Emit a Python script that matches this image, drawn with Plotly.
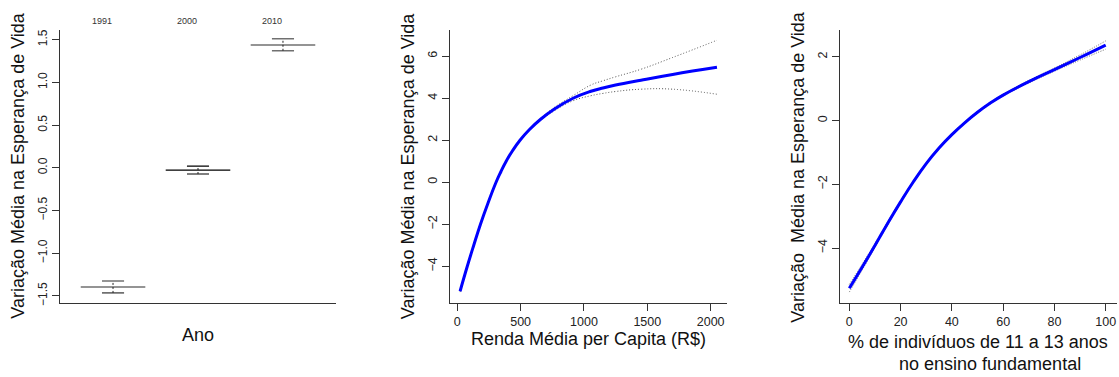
import plotly.graph_objects as go

# --- Efeito do ano (fator) -------------------------------------------------
anos = ["1991", "2000", "2010"]
efeito_ano = [-1.395, -0.027, 1.438]
ano_inf = [-1.465, -0.073, 1.370]
ano_sup = [-1.326, 0.020, 1.510]
cor_ano = ["#707070", "#000000", "#707070"]
larg_ano = [1.6, 1.2, 1.6]

# --- Efeito suave da renda média per capita -------------------------------
renda = [22, 79, 130, 183, 242, 306, 344, 386, 436, 495, 568, 658, 770, 914,
         1055, 1150, 1250, 1450, 1700, 2050]
renda_fit = [-5.19, -4.00, -3.00, -2.00, -1.00, 0.00, 0.50, 1.00, 1.50, 2.00,
             2.50, 3.00, 3.50, 4.00, 4.33, 4.49, 4.63, 4.86, 5.13, 5.47]
renda_sup = [-5.15, -3.97, -2.97, -1.97, -0.97, 0.03, 0.53, 1.03, 1.53, 2.03,
             2.54, 3.05, 3.58, 4.12, 4.63, 4.83, 5.02, 5.38, 5.94, 6.76]
renda_inf = [-5.23, -4.03, -3.03, -2.03, -1.03, -0.03, 0.47, 0.97, 1.47, 1.97,
             2.46, 2.95, 3.42, 3.88, 4.12, 4.23, 4.32, 4.43, 4.43, 4.19]

# --- Efeito suave do % de 11 a 13 anos no ensino fundamental --------------
pct = [0, 5, 10, 15, 20, 25, 30, 35, 40, 45, 50, 55, 60, 70, 80, 90, 100]
pct_fit = [-5.26, -4.60, -3.92, -3.22, -2.55, -1.92, -1.35, -0.86, -0.44, -0.07,
           0.26, 0.55, 0.80, 1.22, 1.60, 1.98, 2.37]
pct_sup = [-5.14, -4.51, -3.86, -3.17, -2.51, -1.89, -1.32, -0.83, -0.41, -0.04,
           0.29, 0.58, 0.83, 1.26, 1.65, 2.06, 2.50]
pct_inf = [-5.38, -4.69, -3.98, -3.27, -2.59, -1.95, -1.38, -0.89, -0.47, -0.10,
           0.23, 0.52, 0.77, 1.18, 1.55, 1.90, 2.24]

W, H = 1119, 377
FONT = "Liberation Sans, Arial, Helvetica, sans-serif"
AXC = "#333333"
ytitle = "Variação Média na Esperança de Vida"


def px_x(p):
    return p / W


def px_y(p):
    return 1 - p / H


def smooth_line(color, width, dash=None):
    d = dict(color=color, width=width, smoothing=1.3, simplify=False, shape="spline")
    if dash:
        d["dash"] = dash
    return d


fig = go.Figure()

# Painel 1: linhas de efeito por ano com intervalos
pos = [i + 1 for i in range(len(anos))]
half_mean, half_cap = 0.38, 0.13
for p, m, lo, hi, c, w in zip(pos, efeito_ano, ano_inf, ano_sup, cor_ano, larg_ano):
    fig.add_trace(go.Scatter(x=[p - half_mean, p + half_mean], y=[m, m], mode="lines",
                             line=dict(color=c, width=w), xaxis="x", yaxis="y",
                             showlegend=False, hoverinfo="skip"))
    for v in (lo, hi):
        fig.add_trace(go.Scatter(x=[p - half_cap, p + half_cap], y=[v, v], mode="lines",
                                 line=dict(color=c, width=w), xaxis="x", yaxis="y",
                                 showlegend=False, hoverinfo="skip"))
    fig.add_trace(go.Scatter(x=[p, p], y=[lo, hi], mode="lines",
                             line=dict(color="#222222", width=1, dash="2px,2px"),
                             xaxis="x", yaxis="y", showlegend=False, hoverinfo="skip"))

# Painel 2: renda
for ys in (renda_sup, renda_inf):
    fig.add_trace(go.Scatter(x=renda, y=ys, mode="lines",
                             line=smooth_line("#555555", 1, "1px,2px"),
                             xaxis="x2", yaxis="y2", showlegend=False))
fig.add_trace(go.Scatter(x=renda, y=renda_fit, mode="lines",
                         line=smooth_line("#0000ff", 3),
                         xaxis="x2", yaxis="y2", showlegend=False))

# Painel 3: escolaridade
for ys in (pct_sup, pct_inf):
    fig.add_trace(go.Scatter(x=pct, y=ys, mode="lines",
                             line=smooth_line("#666666", 1, "1px,1.5px"),
                             xaxis="x3", yaxis="y3", showlegend=False))
fig.add_trace(go.Scatter(x=pct, y=pct_fit, mode="lines",
                         line=smooth_line("#0000ff", 3),
                         xaxis="x3", yaxis="y3", showlegend=False))

common = dict(showgrid=False, zeroline=False, showline=True, linecolor=AXC, linewidth=1,
              ticks="outside", ticklen=7, tickcolor=AXC, tickwidth=1,
              tickfont=dict(family=FONT, size=12.5, color="#222222"))
ydom = [px_y(305), px_y(30)]

fig.update_layout(
    width=W, height=H,
    margin=dict(l=0, r=0, t=0, b=0),
    paper_bgcolor="white", plot_bgcolor="white",
    font=dict(family=FONT),
    xaxis=dict(domain=[px_x(60), px_x(336)], range=[0.376, 3.624],
               showgrid=False, zeroline=False, showline=True, linecolor=AXC,
               showticklabels=False, ticks=""),
    yaxis=dict(domain=ydom, range=[-1.578, 1.616], tickvals=[-1.5, -1.0, -0.5, 0.0, 0.5, 1.0, 1.5],
               ticktext=["\u22121.5", "\u22121.0", "\u22120.5", "0.0", "0.5", "1.0", "1.5"],
               tickangle=-90, anchor="x", **{k: v for k, v in common.items() if k != "tickfont"},
               tickfont=dict(family=FONT, size=12, color="#222222")),
    xaxis2=dict(domain=[px_x(450), px_x(726.7)], range=[-57.6, 2126.8],
                tickvals=[0, 500, 1000, 1500, 2000], anchor="y2", **common),
    yaxis2=dict(domain=ydom, range=[-5.73, 7.26], tickvals=[-4, -2, 0, 2, 4, 6],
                tickangle=-90, anchor="x2", **common),
    xaxis3=dict(domain=[px_x(840), px_x(1116.7)], range=[-3.63, 104.3],
                tickvals=[0, 20, 40, 60, 80, 100], anchor="y3", **common),
    yaxis3=dict(domain=ydom, range=[-5.71, 2.85], tickvals=[-4, -2, 0, 2],
                tickangle=-90, anchor="x3", **common),
)

ann = []
for p, a in zip(pos, anos):
    ann.append(dict(x=p, y=px_y(14), xref="x", yref="paper", text=a, showarrow=False,
                    xshift=-11, font=dict(size=9, color="#333333")))


def title(x, y, text, angle=0):
    return dict(x=px_x(x), y=px_y(y), xref="paper", yref="paper", text=text,
                showarrow=False, textangle=angle, xanchor="center", yanchor="middle",
                font=dict(size=18, color="#111111"))


ann += [
    title(18, 167, ytitle, -90),
    title(408, 167.5, ytitle, -90),
    title(798, 168, "Variação\u00a0 Média na Esperança de Vida", -90),
    title(198, 338, "Ano"),
    title(588, 341.7, "Renda Média per Capita (R$)"),
    title(977.5, 345, "% de indivíduos de 11 a 13 anos"),
    title(990, 366.7, "no ensino fundamental"),
]
fig.update_layout(annotations=ann)

fig.write_html("out.html")
